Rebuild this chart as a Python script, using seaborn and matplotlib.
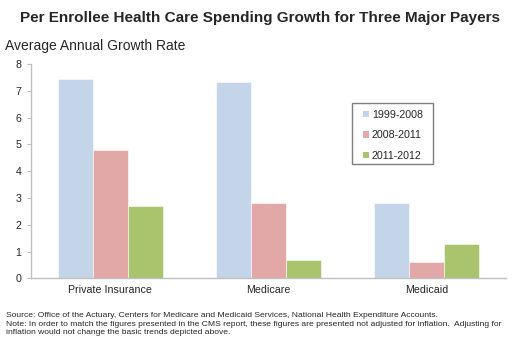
import matplotlib
matplotlib.use("Agg")
import matplotlib.pyplot as plt
from matplotlib.patches import Rectangle
import seaborn as sns
import pandas as pd

categories = ["Private Insurance", "Medicare", "Medicaid"]
periods = ["1999-2008", "2008-2011", "2011-2012"]
v_1999_2008 = [7.45, 7.35, 2.8]
v_2008_2011 = [4.8, 2.8, 0.6]
v_2011_2012 = [2.7, 0.7, 1.3]
colors = ["#C4D5EA", "#E2A8A7", "#A9C46C"]
yticks = [0, 1, 2, 3, 4, 5, 6, 7, 8]

rows = []
for p, vals in zip(periods, [v_1999_2008, v_2008_2011, v_2011_2012]):
    for c, v in zip(categories, vals):
        rows.append({"Payer": c, "Period": p, "Rate": v})
df = pd.DataFrame(rows)

sns.set_theme(style="white")
plt.rcParams["font.family"] = ["Liberation Sans", "DejaVu Sans"]

fig = plt.figure(figsize=(5.2, 3.54), dpi=100)
ax = fig.add_axes([0.0596, 0.2138, 0.9134, 0.605])

sns.barplot(data=df, x="Payer", y="Rate", hue="Period", order=categories,
            hue_order=periods, palette=colors, width=0.665, saturation=1,
            edgecolor="white", linewidth=0.4, ax=ax)

ax.set_xlim(-0.5, 2.5)
ax.set_ylim(0, 8)
ax.set_yticks(yticks)
ax.set_yticklabels([str(t) for t in yticks], fontsize=7.7)
ax.set_xlabel("")
ax.set_ylabel("")
ax.tick_params(axis="x", labelsize=7.7, length=0, pad=5)
ax.tick_params(axis="y", length=3, width=0.8, color="#BFBFBF", left=True, pad=4)
for s in ["top", "right"]:
    ax.spines[s].set_visible(False)
for s in ["left", "bottom"]:
    ax.spines[s].set_color("#BFBFBF")
    ax.spines[s].set_linewidth(1.0)

leg = ax.legend(loc="upper left", bbox_to_anchor=(0.6996, 0.7877), fontsize=7.7,
                frameon=False, handlelength=0.55, handleheight=0.55,
                handletextpad=0.25, labelspacing=1.0, borderpad=0, borderaxespad=0)
for h in leg.legend_handles:
    h.set_linewidth(0)

fig.text(0.5, 0.948, "Per Enrollee Health Care Spending Growth for Three Major Payers",
         ha="center", va="center", fontsize=11, fontweight="bold")
fig.text(0.01, 0.871, "Average Annual Growth Rate", ha="left", va="center", fontsize=10)

foot = ("Source: Office of the Actuary, Centers for Medicare and Medicaid Services, National Health Expenditure Accounts.\n"
        "Note: In order to match the figures presented in the CMS report, these figures are presented not adjusted for inflation.  Adjusting for\n"
        "inflation would not change the basic trends depicted above.")
fig.text(0.011, 1 - 312 / 354, foot, ha="left", va="top", fontsize=6.1, linespacing=1.3)

# frame around legend content, padded like the reference
fig.canvas.draw()
bb = leg.get_window_extent(fig.canvas.get_renderer())
W, H = fig.bbox.width, fig.bbox.height
pl, pr, pt, pb = 11, 10, 7, 3
frame = Rectangle(((bb.x0 - pl) / W, (bb.y0 - pb) / H), (bb.width + pl + pr) / W,
                  (bb.height + pt + pb) / H, transform=fig.transFigure,
                  fill=False, edgecolor="#7F7F7F", linewidth=1.0, zorder=5)
fig.add_artist(frame)

fig.savefig("out.png", dpi=100, facecolor="white")
